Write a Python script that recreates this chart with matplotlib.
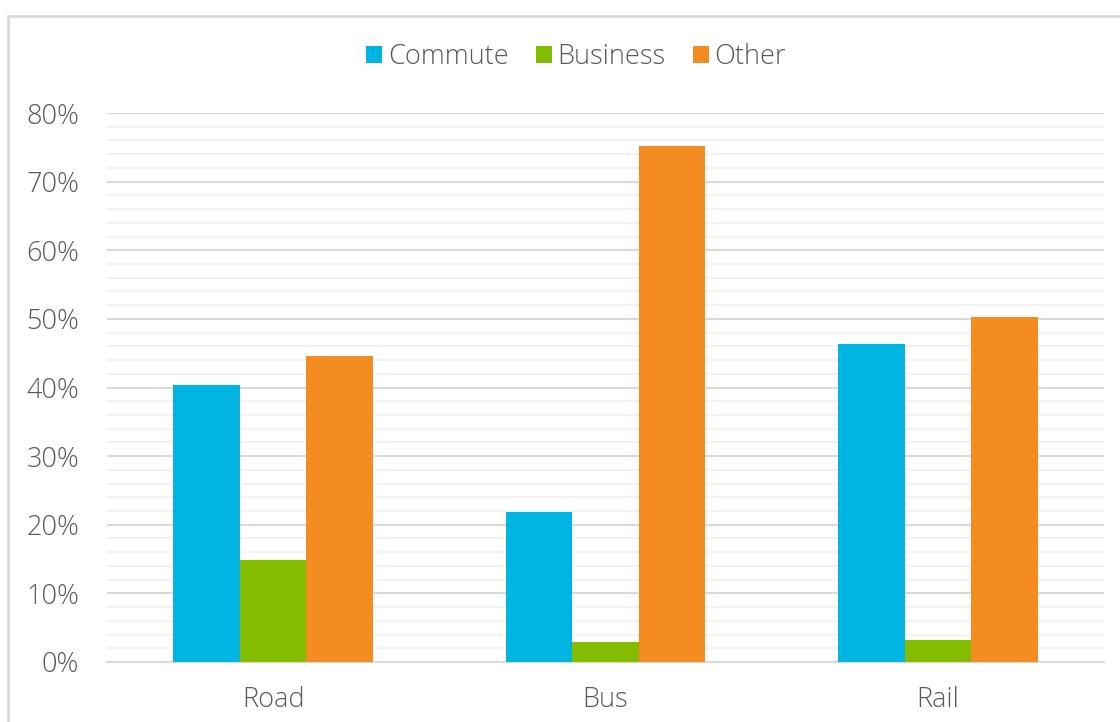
import numpy as np
import matplotlib
matplotlib.use("Agg")
import matplotlib.pyplot as plt
from matplotlib.patches import Rectangle
from matplotlib.ticker import MultipleLocator, FuncFormatter

# chart data (percent)
modes = ["Road", "Bus", "Rail"]
commute = [40.4, 21.8, 46.4]
business = [14.9, 2.9, 3.2]
other = [44.6, 75.2, 50.3]

series_names = ["Commute", "Business", "Other"]
series_colors = ["#00B5E2", "#84BD00", "#F58C21"]

plt.rcParams['font.family'] = ['Open Sans', 'DejaVu Sans']
plt.rcParams['font.weight'] = 'light'
text_color = "#595959"

fig = plt.figure(figsize=(11.2, 7.22), dpi=100)
W, H = 1120, 722

# light frame around the chart area
fig.patches.append(Rectangle((8 / W, -0.1), 1.2, 1 - 16 / H + 0.1,
                             transform=fig.transFigure, fill=False,
                             edgecolor="#D9D9D9", linewidth=2))

ax = fig.add_axes([107 / W, (H - 662) / H, 997 / W, (662 - 113) / H])

x = np.arange(len(modes))
width = 0.2
for i, (vals, name, col) in enumerate(zip([commute, business, other], series_names, series_colors)):
    ax.bar(x + (i - 1) * width, vals, width, color=col, label=name, zorder=3)

ax.set_xlim(-0.5, len(modes) - 0.5)
ax.set_ylim(0, 80)
ax.yaxis.set_major_locator(MultipleLocator(10))
ax.yaxis.set_minor_locator(MultipleLocator(2))
ax.yaxis.set_major_formatter(FuncFormatter(lambda v, p: f"{v:.0f}%"))
ax.grid(axis="y", which="minor", color="#F2F2F2", linewidth=1.5, zorder=0)
ax.grid(axis="y", which="major", color="#D9D9D9", linewidth=1.5, zorder=1)
ax.set_axisbelow(True)

ax.set_xticks(x)
ax.set_xticklabels(modes)
ax.tick_params(axis="both", which="both", length=0, labelsize=19.5, colors=text_color)
ax.tick_params(axis="y", pad=20)
ax.tick_params(axis="x", pad=17)

for s in ["top", "right", "left"]:
    ax.spines[s].set_visible(False)
ax.spines["bottom"].set_color("#D9D9D9")
ax.spines["bottom"].set_linewidth(1.5)

leg = fig.legend(loc="center", bbox_to_anchor=(576 / W, 1 - 57 / H), ncol=3,
                 frameon=False, fontsize=19.5, handlelength=0.6, handleheight=0.6,
                 handletextpad=0.2, columnspacing=1.0)
for t in leg.get_texts():
    t.set_color(text_color)

fig.savefig("out.png", dpi=100)
